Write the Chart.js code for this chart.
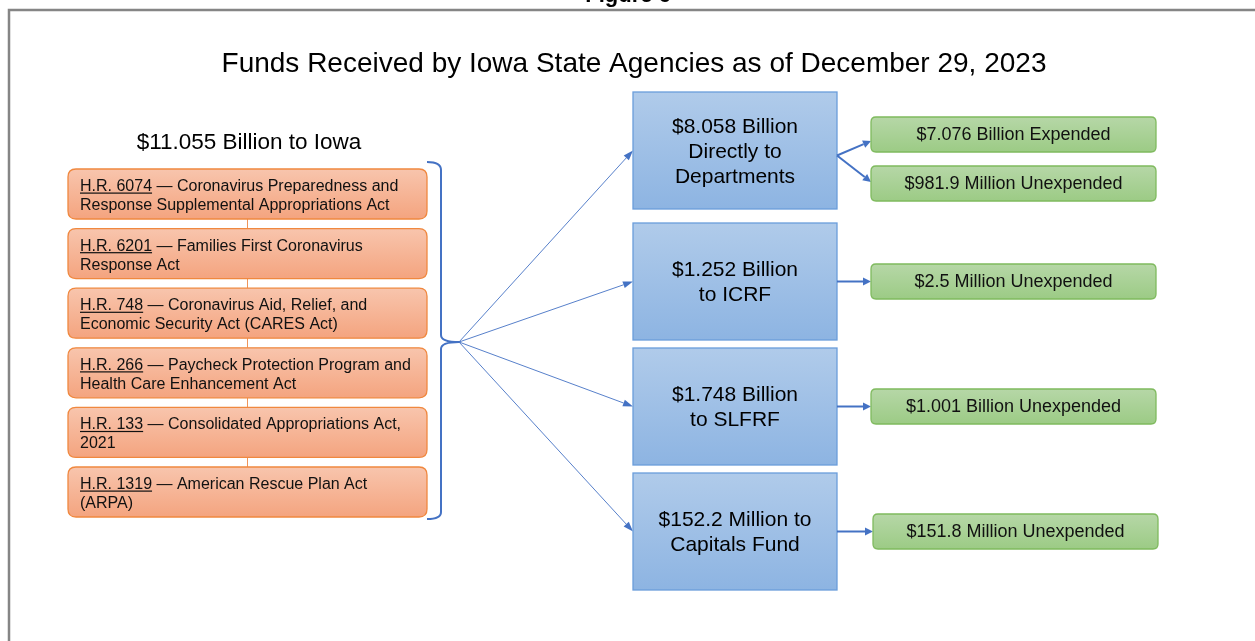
<!DOCTYPE html>
<html>
<head>
<meta charset="utf-8">
<script src="https://cdn.jsdelivr.net/npm/chart.js@4.4.0/dist/chart.umd.min.js"></script>
<style>
  html, body { margin: 0; padding: 0; background: #fff; }
  #wrap { width: 1255px; height: 641px; }
</style>
</head>
<body>
<div id="wrap"><canvas id="myChart" width="1255" height="641"></canvas></div>
<script>
// ----- data -----
var figureLabel = 'Figure 6';
var chartTitle = 'Funds Received by Iowa State Agencies as of December 29, 2023';
var totalLabel = '$11.055 Billion to Iowa';

var actNumbers = ['H.R. 6074', 'H.R. 6201', 'H.R. 748', 'H.R. 266', 'H.R. 133', 'H.R. 1319'];
var actFirstLines = [
  ' \u2014 Coronavirus Preparedness and',
  ' \u2014 Families First Coronavirus',
  ' \u2014 Coronavirus Aid, Relief, and',
  ' \u2014 Paycheck Protection Program and',
  ' \u2014 Consolidated Appropriations Act,',
  ' \u2014 American Rescue Plan Act'
];
var actSecondLines = [
  'Response Supplemental Appropriations Act',
  'Response Act',
  'Economic Security Act (CARES Act)',
  'Health Care Enhancement Act',
  '2021',
  '(ARPA)'
];

var channelLabels = [
  ['$8.058 Billion', 'Directly to', 'Departments'],
  ['$1.252 Billion', 'to ICRF'],
  ['$1.748 Billion', 'to SLFRF'],
  ['$152.2 Million to', 'Capitals Fund']
];
var outcomeLabels = [
  ['$7.076 Billion Expended', '$981.9 Million Unexpended'],
  ['$2.5 Million Unexpended'],
  ['$1.001 Billion Unexpended'],
  ['$151.8 Million Unexpended']
];

// ----- layout (axis units) -----
var FONT = '"Liberation Sans", Arial, Helvetica, sans-serif';
var actBox = { x0: 68, x1: 427, top: 169, step: 59.6, h: 50 };
var chanBox = { x0: 633, x1: 837, tops: [92, 223, 348, 473], h: 117 };
var outBox = { x0: [871, 871, 871, 873], w: 285, tops: [[117, 166], [264], [389], [514]], h: 35 };
var bracket = { x0: 427, x: 441, tip: 459, top: 162, mid: 342, bottom: 519 };

function rrect(ctx, x, y, w, h, r) {
  ctx.beginPath();
  ctx.moveTo(x + r, y);
  ctx.lineTo(x + w - r, y);
  ctx.quadraticCurveTo(x + w, y, x + w, y + r);
  ctx.lineTo(x + w, y + h - r);
  ctx.quadraticCurveTo(x + w, y + h, x + w - r, y + h);
  ctx.lineTo(x + r, y + h);
  ctx.quadraticCurveTo(x, y + h, x, y + h - r);
  ctx.lineTo(x, y + r);
  ctx.quadraticCurveTo(x, y, x + r, y);
  ctx.closePath();
}

function arrow(ctx, x0, y0, x1, y1, lw, len, wid) {
  var a = Math.atan2(y1 - y0, x1 - x0);
  var bx = x1 - Math.cos(a) * len, by = y1 - Math.sin(a) * len;
  ctx.lineWidth = lw;
  ctx.beginPath();
  ctx.moveTo(x0, y0);
  ctx.lineTo(bx, by);
  ctx.stroke();
  ctx.beginPath();
  ctx.moveTo(x1, y1);
  ctx.lineTo(bx + Math.sin(a) * wid / 2, by - Math.cos(a) * wid / 2);
  ctx.lineTo(bx - Math.sin(a) * wid / 2, by + Math.cos(a) * wid / 2);
  ctx.closePath();
  ctx.fill();
}

var diagramPlugin = {
  id: 'diagram',
  afterDraw: function(chart) {
    var ctx = chart.ctx;
    var sx = chart.scales.x, sy = chart.scales.y;
    function px(v) { return sx.getPixelForValue(v); }
    function py(v) { return sy.getPixelForValue(v); }
    ctx.save();

    // frame
    ctx.strokeStyle = '#858585';
    ctx.lineWidth = 2.5;
    ctx.beginPath();
    ctx.moveTo(px(1260), py(10));
    ctx.lineTo(px(9), py(10));
    ctx.lineTo(px(9), py(650));
    ctx.stroke();

    ctx.fillStyle = '#000';
    ctx.font = 'bold 22px ' + FONT;
    ctx.textAlign = 'center';
    ctx.textBaseline = 'alphabetic';
    ctx.fillText(figureLabel, px(628), py(2));

    // titles
    ctx.font = '28px ' + FONT;
    ctx.fillText(chartTitle, px(634), py(72));
    ctx.font = '22.5px ' + FONT;
    ctx.fillText(totalLabel, px(249), py(149));

    // act boxes
    ctx.strokeStyle = '#f0945a';
    ctx.lineWidth = 1;
    for (var i = 0; i < actNumbers.length - 1; i++) {
      var yb = actBox.top + i * actBox.step + actBox.h;
      ctx.beginPath();
      ctx.moveTo(px(247.5), py(yb));
      ctx.lineTo(px(247.5), py(yb + actBox.step - actBox.h));
      ctx.stroke();
    }
    actNumbers.forEach(function(num, i) {
      var t = actBox.top + i * actBox.step;
      var x = px(actBox.x0), y = py(t), w = px(actBox.x1) - x, h = py(t + actBox.h) - y;
      var g = ctx.createLinearGradient(0, y, 0, y + h);
      g.addColorStop(0, '#f8c5ad');
      g.addColorStop(1, '#f4a47f');
      ctx.fillStyle = g;
      rrect(ctx, x, y, w, h, 8);
      ctx.fill();
      ctx.strokeStyle = '#f0883f';
      ctx.lineWidth = 1.3;
      ctx.stroke();

      ctx.fillStyle = '#111';
      ctx.font = '16px ' + FONT;
      ctx.textAlign = 'left';
      var tx = px(80), b1 = py(t + 22), b2 = py(t + 41);
      ctx.fillText(num, tx, b1);
      var nw = ctx.measureText(num).width;
      ctx.fillRect(tx, b1 + 1.5, nw, 1.2);
      ctx.fillText(actFirstLines[i], tx + nw, b1);
      ctx.fillText(actSecondLines[i], tx, b2);
    });

    // bracket
    ctx.strokeStyle = '#4472c4';
    ctx.lineWidth = 2;
    ctx.beginPath();
    ctx.moveTo(px(bracket.x0), py(bracket.top));
    ctx.quadraticCurveTo(px(bracket.x), py(bracket.top), px(bracket.x), py(bracket.top + 8));
    ctx.lineTo(px(bracket.x), py(bracket.mid - 7));
    ctx.quadraticCurveTo(px(bracket.x), py(bracket.mid), px(bracket.tip), py(bracket.mid));
    ctx.quadraticCurveTo(px(bracket.x), py(bracket.mid), px(bracket.x), py(bracket.mid + 7));
    ctx.lineTo(px(bracket.x), py(bracket.bottom - 7));
    ctx.quadraticCurveTo(px(bracket.x), py(bracket.bottom), px(bracket.x0), py(bracket.bottom));
    ctx.stroke();

    // fan arrows
    ctx.fillStyle = '#4472c4';
    chanBox.tops.forEach(function(t) {
      arrow(ctx, px(bracket.tip), py(bracket.mid), px(chanBox.x0), py(t + chanBox.h / 2), 0.9, 10, 7);
    });

    // channel boxes
    channelLabels.forEach(function(lines, i) {
      var t = chanBox.tops[i];
      var x = px(chanBox.x0), y = py(t), w = px(chanBox.x1) - x, h = py(t + chanBox.h) - y;
      var g = ctx.createLinearGradient(0, y, 0, y + h);
      g.addColorStop(0, '#b0cbea');
      g.addColorStop(1, '#8db4e2');
      ctx.fillStyle = g;
      ctx.fillRect(x, y, w, h);
      ctx.strokeStyle = '#6a9ddb';
      ctx.lineWidth = 1.3;
      ctx.strokeRect(x, y, w, h);

      ctx.fillStyle = '#000';
      ctx.font = '21px ' + FONT;
      ctx.textAlign = 'center';
      ctx.textBaseline = 'middle';
      var cy = t + chanBox.h / 2 - (lines.length - 1) * 25 / 2 + 1.5;
      lines.forEach(function(s, k) {
        ctx.fillText(s, px((chanBox.x0 + chanBox.x1) / 2), py(cy + k * 25));
      });
      ctx.textBaseline = 'alphabetic';
    });

    // outcome arrows + boxes
    outcomeLabels.forEach(function(lines, i) {
      var t0 = chanBox.tops[i] + chanBox.h / 2;
      lines.forEach(function(s, k) {
        var t = outBox.tops[i][k];
        var x0 = outBox.x0[i];
        var ty = lines.length > 1 ? (k === 0 ? t + 24 : t + 16) : t + outBox.h / 2;
        var fy = lines.length > 1 ? t0 + 5 : t0;
        ctx.strokeStyle = '#4472c4';
        ctx.fillStyle = '#4472c4';
        arrow(ctx, px(chanBox.x1), py(fy), px(x0), py(ty), 2, 8, 8);

        var x = px(x0), y = py(t), w = px(x0 + outBox.w) - x, h = py(t + outBox.h) - y;
        var g = ctx.createLinearGradient(0, y, 0, y + h);
        g.addColorStop(0, '#b6d7a7');
        g.addColorStop(1, '#9ccb85');
        ctx.fillStyle = g;
        rrect(ctx, x, y, w, h, 5);
        ctx.fill();
        ctx.strokeStyle = '#7fba5e';
        ctx.lineWidth = 1.3;
        ctx.stroke();

        ctx.fillStyle = '#111';
        ctx.font = '18px ' + FONT;
        ctx.textAlign = 'center';
        ctx.textBaseline = 'middle';
        ctx.fillText(s, px(x0 + outBox.w / 2), py(t + outBox.h / 2 + 1));
        ctx.textBaseline = 'alphabetic';
      });
    });

    ctx.restore();
  }
};

var ctx = document.getElementById('myChart').getContext('2d');
var chart = new Chart(ctx, {
  type: 'scatter',
  data: { datasets: [{ data: [], pointRadius: 0 }] },
  options: {
    responsive: false,
    animation: false,
    events: [],
    layout: { padding: 0 },
    plugins: { legend: { display: false }, tooltip: { enabled: false } },
    scales: {
      x: { type: 'linear', min: 0, max: 1255, display: false },
      y: { type: 'linear', min: 0, max: 641, reverse: true, display: false }
    }
  },
  plugins: [diagramPlugin]
});
</script>
</body>
</html>
